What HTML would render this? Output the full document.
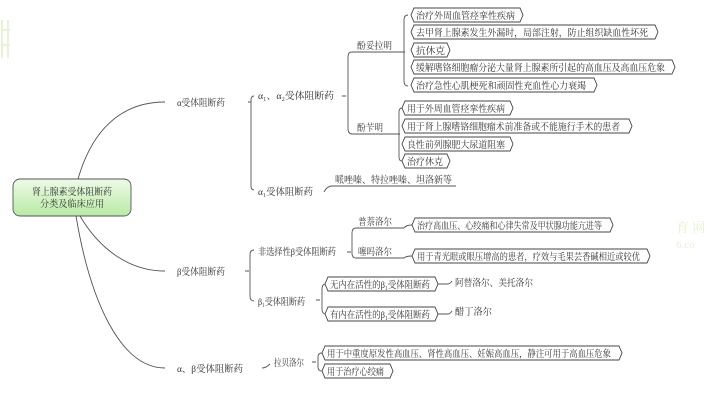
<!DOCTYPE html>
<html><head><meta charset="utf-8"><style>
html,body{margin:0;padding:0;background:#fff;width:711px;height:400px;overflow:hidden}
svg{display:block}
text{font-family:"Liberation Serif","Noto Serif CJK SC",serif;font-size:9.5px;fill:#333}
.b{fill:#fff;stroke:#444;stroke-width:0.9}
.l{fill:none;stroke:#555;stroke-width:0.9}
</style></head><body>
<svg width="711" height="400" viewBox="0 0 711 400" xmlns="http://www.w3.org/2000/svg">
<defs><linearGradient id="g" x1="0" y1="0" x2="0" y2="1"><stop offset="0" stop-color="#eefbe8"/><stop offset="1" stop-color="#b9eaa4"/></linearGradient></defs>
<text x="676" y="232" style="fill:#e4f2d0;font-size:13px">育 网</text>
<text x="676" y="248" style="fill:#e4f2d0;font-size:11px">6.co</text>
<path d="M2 20 V58 M8 20 V58 M2 30 H10 M2 45 H10" stroke="#e8f2d8" stroke-width="2" fill="none"/>
<rect x="13" y="179" width="118" height="37" rx="7" fill="url(#g)" stroke="#555" stroke-width="0.9"/>
<text x="32" y="195" textLength="80" lengthAdjust="spacingAndGlyphs">肾上腺素受体阻断药</text>
<text x="40" y="207" textLength="64" lengthAdjust="spacingAndGlyphs">分类及临床应用</text>
<path class="l" d="M78 179 C95 120 130 102 165 102"/>
<path class="l" d="M80 216 C100 250 130 271 165 271"/>
<path class="l" d="M76 216 C90 300 120 368 165 368"/>
<text x="177" y="106" textLength="48" lengthAdjust="spacingAndGlyphs">α受体阻断药</text>
<text x="177" y="275" textLength="48" lengthAdjust="spacingAndGlyphs">β受体阻断药</text>
<text x="177" y="372" textLength="66" lengthAdjust="spacingAndGlyphs">α、β受体阻断药</text>
<path class="l" d="M248 102 H251 M254 96 Q251 96 251 100 V186 Q251 190 254 190"/>
<text x="258" y="99" textLength="76" lengthAdjust="spacingAndGlyphs">α₁、α₂受体阻断药</text>
<text x="258" y="195" textLength="55" lengthAdjust="spacingAndGlyphs">α₁受体阻断药</text>
<path class="l" d="M342 96 H346 M356 52 H352 Q348 52 348 57 V128 Q348 134 352 134 H400 M352 52 H395"/>
<text x="357" y="49" textLength="35" lengthAdjust="spacingAndGlyphs">酚妥拉明</text>
<text x="357" y="131" textLength="26" lengthAdjust="spacingAndGlyphs">酚苄明</text>
<path class="l" d="M395 52 H405 M408 15 Q404 15 404 20 V81 Q404 86 408 86"/>
<path class="b" d="M414 8 H520 L523 15 L520 22 H414 L411 15 Z"/><text x="416" y="19" textLength="99" lengthAdjust="spacingAndGlyphs">治疗外周血管痉挛性疾病</text>
<path class="b" d="M414 25 H655 L658 32 L655 39 H414 L411 32 Z"/><text x="416" y="36" textLength="232" lengthAdjust="spacingAndGlyphs">去甲肾上腺素发生外漏时，局部注射，防止组织缺血性坏死</text>
<path class="b" d="M414 43 H447 L450 50 L447 57 H414 L411 50 Z"/><text x="416" y="54" textLength="29" lengthAdjust="spacingAndGlyphs">抗休克</text>
<path class="b" d="M414 60 H672 L675 67 L672 74 H414 L411 67 Z"/><text x="416" y="71" textLength="249" lengthAdjust="spacingAndGlyphs">缓解嗜铬细胞瘤分泌大量肾上腺素所引起的高血压及高血压危象</text>
<path class="b" d="M414 78 H594 L597 85 L594 92 H414 L411 85 Z"/><text x="416" y="89" textLength="170" lengthAdjust="spacingAndGlyphs">治疗急性心肌梗死和顽固性充血性心力衰竭</text>
<path class="l" d="M402 108 Q399 108 399 112 V157 Q399 161 402 161"/>
<path class="b" d="M405 101 H510 L513 108 L510 115 H405 L402 108 Z"/><text x="407" y="112" textLength="98" lengthAdjust="spacingAndGlyphs">用于外周血管痉挛性疾病</text>
<path class="b" d="M405 119 H629 L632 126 L629 133 H405 L402 126 Z"/><text x="407" y="130" textLength="213" lengthAdjust="spacingAndGlyphs">用于肾上腺嗜铬细胞瘤术前准备或不能施行手术的患者</text>
<path class="b" d="M405 137 H510 L513 144 L510 151 H405 L402 144 Z"/><text x="407" y="148" textLength="98" lengthAdjust="spacingAndGlyphs">良性前列腺肥大尿道阻塞</text>
<path class="b" d="M405 154 H447 L450 161 L447 168 H405 L402 161 Z"/><text x="407" y="165" textLength="36" lengthAdjust="spacingAndGlyphs">治疗休克</text>
<path class="l" d="M324 192 Q327 186 332 186 H456"/>
<text x="335" y="183" textLength="117" lengthAdjust="spacingAndGlyphs">哌唑嗪、特拉唑嗪、坦洛新等</text>
<path class="l" d="M245 271 H249 M254 250 Q250 250 250 255 V296 Q250 301 254 301"/>
<text x="258" y="255" textLength="78" lengthAdjust="spacingAndGlyphs">非选择性β受体阻断药</text>
<text x="258" y="305" textLength="47" lengthAdjust="spacingAndGlyphs">β₁受体阻断药</text>
<path class="l" d="M347 252 H351 M360 228 H356 Q352 228 352 233 V253 Q352 258 356 258 H404 M356 228 H404"/>
<text x="358" y="225" textLength="34" lengthAdjust="spacingAndGlyphs">普萘洛尔</text>
<text x="358" y="255" textLength="34" lengthAdjust="spacingAndGlyphs">噻吗洛尔</text>
<path class="l" d="M404 228 Q406 225 412 225 M404 258 Q406 256 412 256"/>
<path class="b" d="M415 218 H610 L613 225 L610 232 H415 L412 225 Z"/><text x="417" y="229" textLength="185" lengthAdjust="spacingAndGlyphs">治疗高血压、心绞痛和心律失常及甲状腺功能亢进等</text>
<path class="b" d="M415 249 H647 L650 256 L647 263 H415 L412 256 Z"/><text x="417" y="260" textLength="223" lengthAdjust="spacingAndGlyphs">用于青光眼或眼压增高的患者，疗效与毛果芸香碱相近或较优</text>
<path class="l" d="M316 300 H320 M326 284 Q322 284 322 289 V309 Q322 314 326 314"/>
<path class="b" d="M328 277 H435 L438 284 L435 291 H328 L325 284 Z"/><text x="330" y="288" textLength="100" lengthAdjust="spacingAndGlyphs">无内在活性的β₁受体阻断药</text>
<path class="b" d="M328 307 H435 L438 314 L435 321 H328 L325 314 Z"/><text x="330" y="318" textLength="100" lengthAdjust="spacingAndGlyphs">有内在活性的β₁受体阻断药</text>
<path class="l" d="M438 284 H448 Q450 284 452 281 M438 314 H448 Q450 314 452 311"/>
<text x="455" y="286" textLength="78" lengthAdjust="spacingAndGlyphs">阿替洛尔、美托洛尔</text>
<text x="455" y="315" textLength="37" lengthAdjust="spacingAndGlyphs">醋丁洛尔</text>
<path class="l" d="M262 368 Q266 368 270 364"/>
<text x="274" y="366" textLength="30" lengthAdjust="spacingAndGlyphs">拉贝洛尔</text>
<path class="l" d="M312 362 H316 M322 353 Q318 353 318 357 V367 Q318 371 322 371"/>
<path class="b" d="M325 346 H619 L622 353 L619 360 H325 L322 353 Z"/><text x="327" y="357" textLength="284" lengthAdjust="spacingAndGlyphs">用于中重度原发性高血压、肾性高血压、妊娠高血压，静注可用于高血压危象</text>
<path class="b" d="M325 364 H390 L393 371 L390 378 H325 L322 371 Z"/><text x="327" y="375" textLength="57" lengthAdjust="spacingAndGlyphs">用于治疗心绞痛</text>
</svg>
</body></html>
